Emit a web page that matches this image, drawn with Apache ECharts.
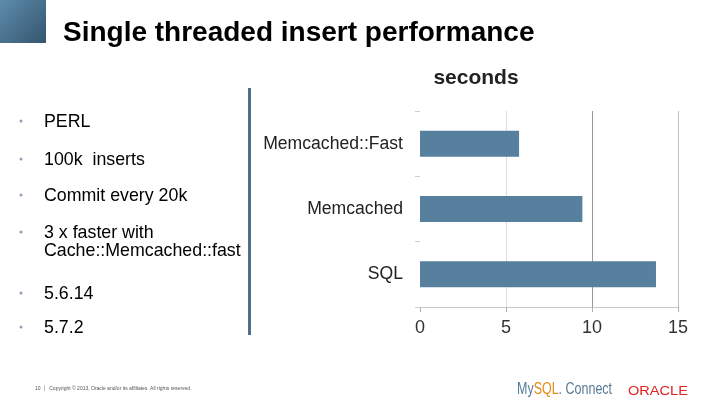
<!DOCTYPE html>
<html><head><meta charset="utf-8">
<script src="https://cdn.jsdelivr.net/npm/echarts@6/dist/echarts.min.js"></script>
<style>html,body{margin:0;padding:0;background:#fff}#c{width:720px;height:405px}</style>
</head><body><div id="c"></div>
<script>
const categories = ['SQL', 'Memcached', 'Memcached::Fast'];
const seconds = [13.72, 9.44, 5.76];
const xTicks = [0, 5, 10, 15];
const bullets = ['PERL', '100k  inserts', 'Commit every 20k', '3 x faster with\nCache::Memcached::fast', '5.6.14', '5.7.2'];
const bulletY = [121, 159, 195, 241, 293, 327];

const chart = echarts.init(document.getElementById('c'), null, {renderer: 'canvas'});
const font = 'Liberation Sans, Arial, sans-serif';
const graphics = [
  {type: 'rect', shape: {x: 0, y: 0, width: 46, height: 43},
   style: {fill: new echarts.graphic.LinearGradient(0, 0, 1, 1, [{offset: 0, color: '#5e8cac'}, {offset: 1, color: '#34556f'}])}},
  {type: 'text', left: 63, top: 19, style: {text: 'Single threaded insert performance', font: 'bold 28px ' + font, fill: '#000'}},
  {type: 'text', x: 476, y: 78, style: {text: 'seconds', font: 'bold 21px ' + font, fill: '#222', align: 'center', verticalAlign: 'middle'}},
  {type: 'rect', shape: {x: 248, y: 88, width: 3, height: 247}, style: {fill: '#4f6f8a'}},
  {type: 'text', left: 35, top: 386, style: {text: '10  │  Copyright © 2013, Oracle and/or its affiliates. All rights reserved.', font: '5px ' + font, fill: '#555'}},
  {type: 'text', x: 517, y: 390, scaleX: 0.78, style: {
    text: '{a|My}{b|SQL}{a|. Connect}', verticalAlign: 'middle',
    rich: {a: {font: '16px ' + font, fill: '#557a96'}, b: {font: '16px ' + font, fill: '#e48b17'}}}},
  {type: 'text', x: 628, y: 391, scaleX: 1.12, style: {text: 'ORACLE', font: '13px ' + font, fill: '#e2211c', verticalAlign: 'middle'}}
];
bullets.forEach((b, i) => {
  const lines = b.split('\n').length;
  graphics.push({type: 'circle', shape: {cx: 21, cy: bulletY[i] - (lines - 1) * 9, r: 1.5}, style: {fill: '#8aa0b4'}});
  graphics.push({type: 'text', left: 44, top: bulletY[i] - 9 * lines + 1, style: {text: b, font: '17.8px ' + font, fill: '#000', lineHeight: 18}});
});

chart.setOption({
  animation: false,
  grid: {left: 420, right: 42, top: 111, bottom: 98, containLabel: false},
  xAxis: {type: 'value', min: 0, max: 15, interval: 5,
    axisLine: {show: true, lineStyle: {color: '#c8c8c8'}},
    axisTick: {show: true, length: 5, lineStyle: {color: '#b0b0b0'}},
    axisLabel: {fontSize: 18, color: '#333', margin: 12, fontFamily: font,
      formatter: v => xTicks.includes(v) ? String(v) : ''},
    splitLine: {show: true, lineStyle: {color: ['rgba(0,0,0,0)', '#dcdcdc', '#9a9a9a', '#c0c0c0'], width: 1}}},
  yAxis: {type: 'category', data: categories,
    axisLine: {show: false},
    axisTick: {show: true, length: 5, lineStyle: {color: '#cccccc'}},
    axisLabel: {fontSize: 17.6, color: '#222', margin: 17, fontFamily: font}},
  series: [{type: 'bar', data: seconds, barWidth: 26, itemStyle: {color: '#56809e'}}],
  graphic: graphics
});
</script></body></html>
